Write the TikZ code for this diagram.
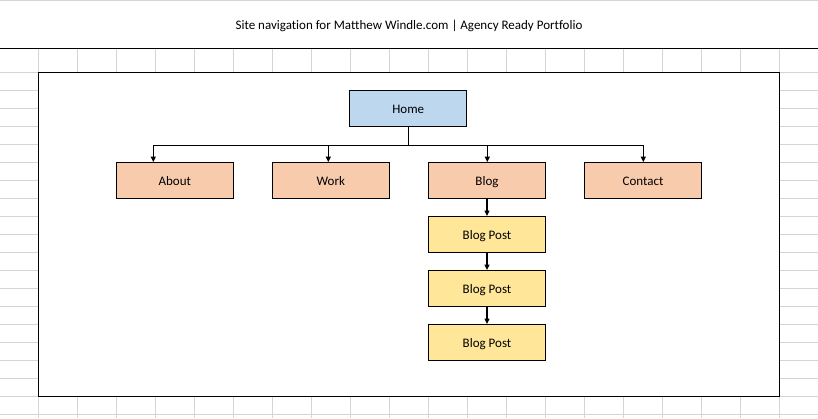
\documentclass[tikz,border=0pt]{standalone}
\usepackage{fontspec}
\setmainfont{Carlito}[Ligatures=NoCommon]
\usetikzlibrary{arrows.meta}

\definecolor{gridgray}{RGB}{212,212,212}
\definecolor{homeblue}{RGB}{189,215,238}
\definecolor{pagepeach}{RGB}{248,203,173}
\definecolor{postgold}{RGB}{255,230,153}

\tikzset{
  pagebox/.style={draw=black, line width=1.1pt, minimum width=117pt, minimum height=36pt,
    inner sep=0pt, text height=10pt, text depth=0pt,
    font=\fontsize{13}{15}\selectfont, text=black},
  homebox/.style={pagebox, fill=homeblue},
  sectionbox/.style={pagebox, fill=pagepeach},
  postbox/.style={pagebox, fill=postgold},
  link/.style={draw=black, line width=1.1pt},
  linkarrow/.style={link, -{Triangle[length=5.5pt,width=5pt]}, shorten >=-0.3pt},
  gridline/.style={draw=gridgray, line width=0.9pt}
}

\begin{document}
\begin{tikzpicture}[x=1pt, y=-1pt]
  \useasboundingbox (0,0) rectangle (818,418);
  \fill[white] (0,0) rectangle (818,418);

  % spreadsheet cells behind the chart
  \foreach \k in {0,...,19}
    \draw[gridline] (0,72.3+18*\k) -- (818,72.3+18*\k);
  \foreach \k in {0,...,19}
    \draw[gridline] (38.3+39*\k,48.3) -- (38.3+39*\k,418);

  % header row
  \draw[gridline] (0,0.5) -- (818,0.5);
  \fill[white] (0,1) rectangle (818,48.3);
  \draw[black, line width=1.1pt] (0,48.3) -- (818,48.3);
  \node[font=\fontsize{13}{15}\selectfont, anchor=base, inner sep=0pt] (title) at (409,29)
    {Site navigation for Matthew Windle.com | Agency Ready Portfolio};

  % chart frame
  \draw[black, fill=white, line width=1.1pt] (38.3,72.3) rectangle (779.3,396.3);

  % pages
  \node[homebox]    (home)    at (408.2,108.3) {Home};
  \node[sectionbox] (about)   at (174.8,180.3) {About};
  \node[sectionbox] (work)    at (330.8,180.3) {Work};
  \node[sectionbox] (blog)    at (487.0,180.3) {Blog};
  \node[sectionbox] (contact) at (643.0,180.3) {Contact};
  \node[postbox]    (post1)   at (487.0,234.3) {Blog Post};
  \node[postbox]    (post2)   at (487.0,288.3) {Blog Post};
  \node[postbox]    (post3)   at (487.0,342.3) {Blog Post};

  % branch points on the bus under Home
  \coordinate (tAbout)   at (153.3,145.7);
  \coordinate (tWork)    at (328.3,145.7);
  \coordinate (tBlog)    at (487.3,145.7);
  \coordinate (tContact) at (643.3,145.7);
  \coordinate (busEnd)   at (644.0,145.7);

  \draw[link] (home.south) -- (home.south |- tAbout);
  \draw[link] (tAbout) -- (busEnd);
  \draw[linkarrow] (tAbout)   -- (tAbout |- about.north);
  \draw[linkarrow] (tWork)    -- (tWork |- work.north);
  \draw[linkarrow] (tBlog)    -- (tBlog |- blog.north);
  \draw[linkarrow] (tContact) -- (tContact |- contact.north);

  % blog post chain
  \draw[linkarrow] (blog.south)  -- (post1.north);
  \draw[linkarrow] (post1.south) -- (post2.north);
  \draw[linkarrow] (post2.south) -- (post3.north);
\end{tikzpicture}
\end{document}
